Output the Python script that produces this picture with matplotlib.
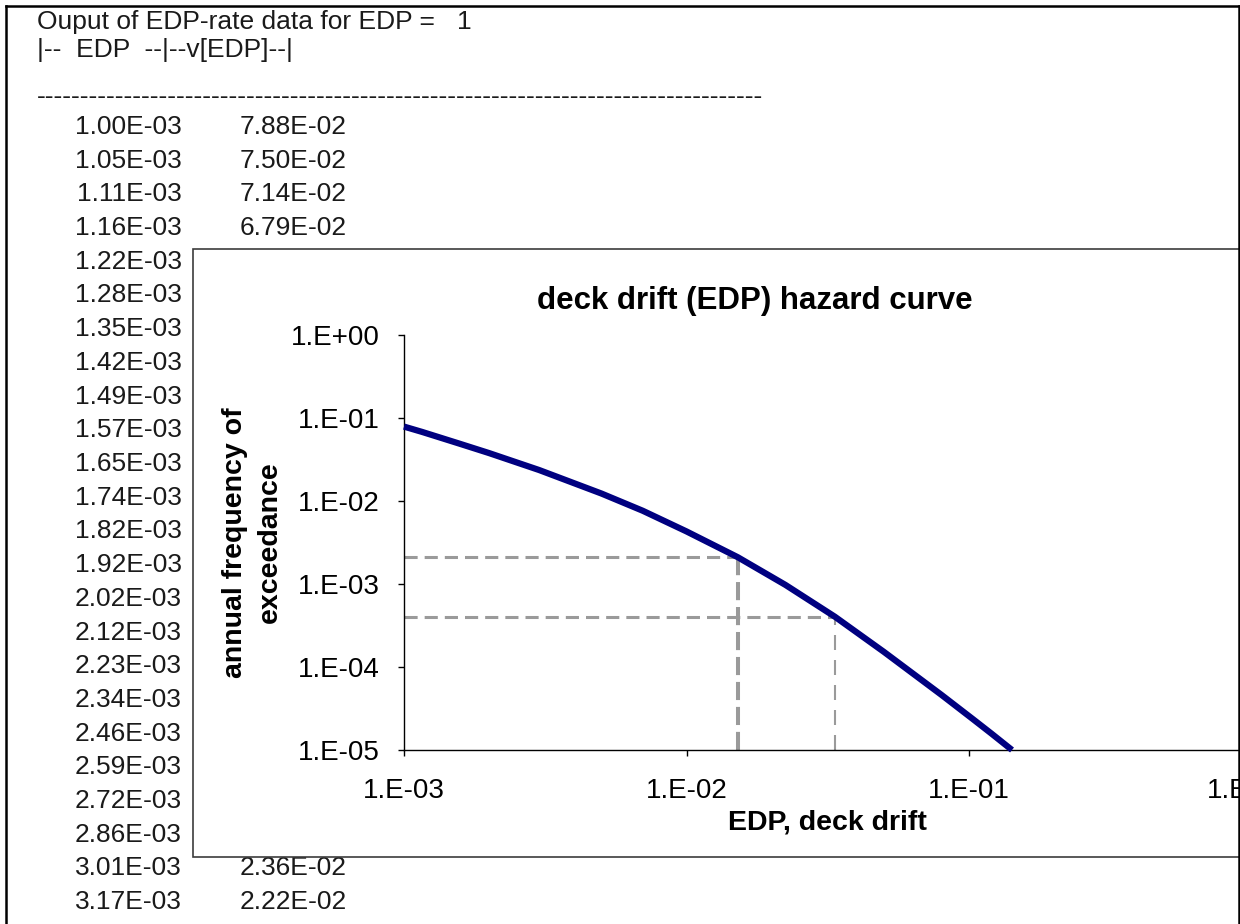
import numpy as np
import matplotlib
matplotlib.use("Agg")
import matplotlib.pyplot as plt
from matplotlib.patches import Rectangle
from matplotlib.lines import Line2D
from matplotlib.ticker import FixedLocator, FuncFormatter, NullLocator

plt.rcParams['font.family'] = ['Liberation Sans', 'DejaVu Sans']

W, H = 1240, 924

# EDP-rate listing (second column hidden behind the chart is unknown -> None)
table_edp = [1.00e-3, 1.05e-3, 1.11e-3, 1.16e-3, 1.22e-3, 1.28e-3, 1.35e-3, 1.42e-3,
             1.49e-3, 1.57e-3, 1.65e-3, 1.74e-3, 1.82e-3, 1.92e-3, 2.02e-3, 2.12e-3,
             2.23e-3, 2.34e-3, 2.46e-3, 2.59e-3, 2.72e-3, 2.86e-3, 3.01e-3, 3.17e-3]
table_rate = [7.88e-2, 7.50e-2, 7.14e-2, 6.79e-2] + [None] * 18 + [2.36e-2, 2.22e-2]

# hazard curve
edp = [1.00e-3, 1.16e-3, 1.58e-3, 2.00e-3, 3.01e-3, 5.00e-3, 7.00e-3, 1.00e-2,
       1.52e-2, 2.24e-2, 3.35e-2, 5.00e-2, 8.00e-2, 1.03e-1, 1.20e-1, 1.42e-1]
rate = [7.88e-2, 6.79e-2, 4.88e-2, 3.78e-2, 2.36e-2, 1.23e-2, 7.63e-3, 4.30e-3,
        2.10e-3, 9.75e-4, 4.04e-4, 1.52e-4, 4.60e-5, 2.37e-5, 1.58e-5, 1.00e-5]

# 10% and 2% in 50 years
edp_10in50, rate_10in50 = 1.52e-2, 2.10e-3
edp_2in50, rate_2in50 = 3.35e-2, 4.04e-4

x_ticks = [1e-3, 1e-2, 1e-1, 1e0]
y_ticks = [1e-5, 1e-4, 1e-3, 1e-2, 1e-1, 1e0]


def fx(px):
    return px / W


def fy(py):
    return 1 - py / H


fig = plt.figure(figsize=(W / 100, H / 100), dpi=100)

txt = dict(fontsize=19, color='#1a1a1a', zorder=1)
fig.text(fx(37), fy(29), 'Ouput of EDP-rate data for EDP =   1', ha='left', va='baseline', **txt)
fig.text(fx(37), fy(57), '|--  EDP  --|--v[EDP]--|', ha='left', va='baseline', **txt)
fig.text(fx(37), fy(104), '-' * 83, ha='left', va='baseline', **txt)

for i, (e, r) in enumerate(zip(table_edp, table_rate)):
    yb = 125 + 33.7 * i + 9
    fig.text(fx(182), fy(yb), f'{e:.2E}', ha='right', va='baseline', **txt)
    if r is not None:
        fig.text(fx(240), fy(yb), f'{r:.2E}', ha='left', va='baseline', **txt)

# chart area box
fig.patches.append(Rectangle((fx(193), fy(857)), fx(1400 - 193), (857 - 249) / H,
                             transform=fig.transFigure, facecolor='white',
                             edgecolor='#3c3c3c', linewidth=1.2, zorder=2))

fig.text(fx(755), fy(309), 'deck drift (EDP) hazard curve', ha='center', va='baseline',
         fontsize=22.5, fontweight='bold', color='black', zorder=4)

ax = fig.add_axes([fx(404), fy(750), fx(1251.5 - 404), (750 - 335) / H])
ax.set_zorder(3)
ax.patch.set_visible(False)
ax.set_xscale('log')
ax.set_yscale('log')
ax.set_xlim(1e-3, 1e0)
ax.set_ylim(1e-5, 1e0)

ax.plot([1e-3, edp_10in50], [rate_10in50, rate_10in50], color='#9a9a9a', lw=2.2,
        linestyle=(0, (4.3, 2.3)), zorder=2)
ax.plot([1e-3, edp_2in50], [rate_2in50, rate_2in50], color='#9a9a9a', lw=2.2,
        linestyle=(0, (4.3, 2.3)), zorder=2)
ax.plot([edp_10in50, edp_10in50], [1e-5, rate_10in50], color='#9a9a9a', lw=2.9,
        linestyle=(0, (4.5, 1.7)), zorder=2)
ax.plot([edp_2in50, edp_2in50], [1e-5, rate_2in50], color='#9a9a9a', lw=1.5,
        linestyle=(0, (7.2, 4.8)), zorder=2)

ax.plot(edp, rate, color='#000080', lw=4.5, solid_capstyle='butt',
        solid_joinstyle='round', clip_on=False, zorder=3)

for s in ['top', 'right']:
    ax.spines[s].set_visible(False)
for s in ['left', 'bottom']:
    ax.spines[s].set_color('black')
    ax.spines[s].set_linewidth(1.0)

fmt = FuncFormatter(lambda v, p: f'1.E{int(round(np.log10(v))):+03d}')
ax.xaxis.set_major_locator(FixedLocator(x_ticks))
ax.yaxis.set_major_locator(FixedLocator(y_ticks))
ax.xaxis.set_minor_locator(NullLocator())
ax.yaxis.set_minor_locator(NullLocator())
ax.xaxis.set_major_formatter(fmt)
ax.yaxis.set_major_formatter(fmt)
ax.tick_params(axis='both', direction='out', length=4.3, width=1.0, color='black',
               labelsize=20, labelcolor='black')
ax.tick_params(axis='x', pad=15.8)
ax.tick_params(axis='y', pad=13)
for lab in ax.get_xticklabels():
    lab.set_clip_on(False)

ax.set_xlabel('EDP, deck drift', fontsize=20.5, fontweight='bold')
ax.xaxis.set_label_coords(0.5, -0.1445)
ax.set_ylabel('annual frequency of\nexceedance', fontsize=20.5, fontweight='bold',
              linespacing=1.45)
ax.yaxis.set_label_coords(-0.1428, 0.5)

# page border
for xs, ys in [([6, 6], [6, 930]), ([6, 1238.5], [6, 6]), ([1238.5, 1238.5], [6, 930])]:
    fig.lines.append(Line2D([fx(x) for x in xs], [fy(y) for y in ys],
                            transform=fig.transFigure, color='black', lw=1.8, zorder=10))

fig.savefig('out.png', dpi=100)
